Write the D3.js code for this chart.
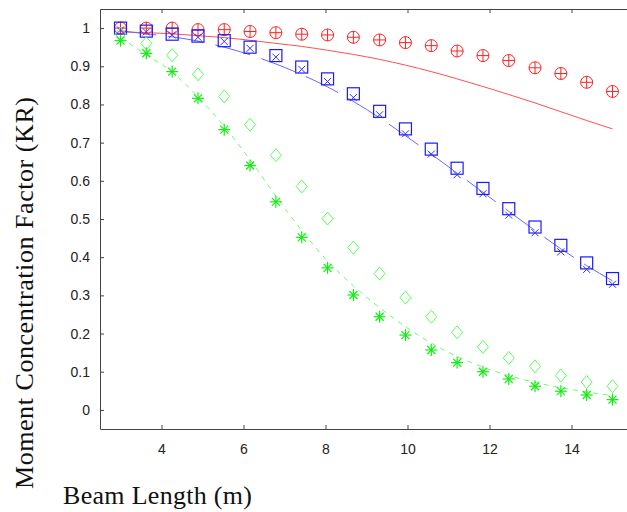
<!DOCTYPE html>
<html>
<head>
<meta charset="utf-8">
<script src="https://cdn.jsdelivr.net/npm/d3@7"></script>
<style>
  body { margin: 0; background: #fff; overflow: hidden; }
  .tick text { font-family: "Liberation Sans", Arial, sans-serif; font-size: 14px; fill: #222; }
  .axis-title { font-family: "Liberation Serif", "Times New Roman", serif; font-size: 26px; fill: #111; }
</style>
</head>
<body>
<div id="chart"></div>
<script>
// beam lengths, 20 samples from 3 to 15 m
const beamLength = [3.00, 3.63, 4.26, 4.89, 5.53, 6.16, 6.79, 7.42, 8.05, 8.68,
                    9.32, 9.95, 10.58, 11.21, 11.84, 12.47, 13.11, 13.74, 14.37, 15.00];

const redCircles = [1.000, 1.000, 1.000, 0.996, 0.996, 0.991, 0.988, 0.984, 0.982, 0.976,
                    0.969, 0.962, 0.954, 0.940, 0.928, 0.915, 0.896, 0.881, 0.858, 0.834];
const redLine    = [0.990, 0.988, 0.985, 0.980, 0.975, 0.968, 0.960, 0.952, 0.942, 0.931,
                    0.918, 0.903, 0.886, 0.867, 0.847, 0.826, 0.804, 0.781, 0.758, 0.736];

const blueSquares = [1.000, 0.992, 0.984, 0.979, 0.967, 0.950, 0.928, 0.898, 0.867, 0.828,
                     0.782, 0.736, 0.683, 0.633, 0.580, 0.527, 0.479, 0.431, 0.385, 0.344];
const blueCrosses = [0.995, 0.990, 0.982, 0.976, 0.965, 0.947, 0.924, 0.892, 0.860, 0.818,
                     0.773, 0.723, 0.670, 0.616, 0.566, 0.510, 0.464, 0.414, 0.368, 0.329];
const blueLine    = [0.993, 0.985, 0.977, 0.966, 0.950, 0.930, 0.906, 0.878, 0.846, 0.808,
                     0.765, 0.718, 0.670, 0.620, 0.570, 0.520, 0.470, 0.422, 0.378, 0.338];

const greenDiamonds = [0.985, 0.960, 0.929, 0.879, 0.821, 0.747, 0.667, 0.585, 0.501, 0.425,
                       0.357, 0.294, 0.244, 0.203, 0.165, 0.136, 0.114, 0.090, 0.073, 0.062];
const greenStars    = [0.967, 0.934, 0.886, 0.816, 0.734, 0.640, 0.545, 0.452, 0.372, 0.301,
                       0.244, 0.196, 0.157, 0.124, 0.100, 0.081, 0.062, 0.049, 0.039, 0.027];
const greenLine     = [0.975, 0.930, 0.885, 0.820, 0.743, 0.655, 0.560, 0.470, 0.390, 0.325,
                       0.268, 0.218, 0.175, 0.140, 0.112, 0.090, 0.072, 0.058, 0.047, 0.037];

const xTicks = [4, 6, 8, 10, 12, 14];
const yTicks = [0, 0.1, 0.2, 0.3, 0.4, 0.5, 0.6, 0.7, 0.8, 0.9, 1];

const width = 627, height = 512;
const margin = { top: 9, left: 100, bottom: 83, right: -6 };
const innerW = width - margin.left - margin.right;
const innerH = height - margin.top - margin.bottom;

const svg = d3.select("#chart").append("svg")
  .attr("width", width)
  .attr("height", height);

const g = svg.append("g")
  .attr("transform", `translate(${margin.left},${margin.top})`);

const x = d3.scaleLinear().domain([2.5, 15.5]).range([0, innerW]);
const y = d3.scaleLinear().domain([-0.05, 1.05]).range([innerH, 0]);

// axes: ticks point inward
const xAxis = g.append("g")
  .attr("transform", `translate(0,${innerH})`)
  .call(d3.axisBottom(x).tickValues(xTicks).tickSize(-4).tickPadding(12).tickSizeOuter(0));
g.append("g")
  .call(d3.axisTop(x).tickValues(xTicks).tickSize(-4).tickFormat("").tickSizeOuter(0));
g.append("g")
  .call(d3.axisLeft(y).tickValues(yTicks).tickSize(-4).tickPadding(10).tickSizeOuter(0)
    .tickFormat(d => d3.format("~g")(d)));
g.selectAll(".domain, .tick line").attr("stroke", "#444");
g.selectAll(".tick text").attr("fill", "#222");
xAxis.selectAll(".tick text").attr("dy", "0.9em");

const lineGen = d3.line()
  .x((d, i) => x(beamLength[i]))
  .y(d => y(d))
  .curve(d3.curveMonotoneX);

// fitted curves
g.append("path").datum(redLine).attr("d", lineGen)
  .attr("fill", "none").attr("stroke", "#ff5050").attr("stroke-width", 1);
g.append("path").datum(blueLine).attr("d", lineGen)
  .attr("fill", "none").attr("stroke", "#6868ff").attr("stroke-width", 1)
  .attr("stroke-dasharray", "36,12");
g.append("path").datum(greenLine).attr("d", lineGen)
  .attr("fill", "none").attr("stroke", "#66ff66").attr("stroke-width", 1)
  .attr("stroke-dasharray", "5,5");

// marker helpers
function addMarkers(values, draw) {
  values.forEach((v, i) => {
    const m = g.append("g")
      .attr("transform", `translate(${x(beamLength[i])},${y(v)})`)
      .attr("fill", "none");
    draw(m);
  });
}

addMarkers(redCircles, m => {
  m.attr("stroke", "#ff2020").attr("stroke-width", 1);
  m.append("circle").attr("r", 6);
  m.append("line").attr("x1", -6).attr("x2", 6);
  m.append("line").attr("y1", -6).attr("y2", 6);
});

addMarkers(blueSquares, m => {
  m.attr("stroke", "#1a1aff").attr("stroke-width", 1.2);
  m.append("rect").attr("x", -6).attr("y", -6).attr("width", 12).attr("height", 12);
});

addMarkers(blueCrosses, m => {
  m.attr("stroke", "#3030ff").attr("stroke-width", 1);
  m.append("line").attr("x1", -3.5).attr("y1", -3.5).attr("x2", 3.5).attr("y2", 3.5);
  m.append("line").attr("x1", -3.5).attr("y1", 3.5).attr("x2", 3.5).attr("y2", -3.5);
});

addMarkers(greenDiamonds, m => {
  m.attr("stroke", "#55ff55").attr("stroke-width", 1);
  m.append("path").attr("d", "M0,-6.5L5.5,0L0,6.5L-5.5,0Z");
});

addMarkers(greenStars, m => {
  m.attr("stroke", "#11ee11").attr("stroke-width", 1.2);
  m.append("line").attr("x1", -6).attr("x2", 6);
  m.append("line").attr("y1", -6).attr("y2", 6);
  m.append("line").attr("x1", -4).attr("y1", -4).attr("x2", 4).attr("y2", 4);
  m.append("line").attr("x1", -4).attr("y1", 4).attr("x2", 4).attr("y2", -4);
});

// axis titles
svg.append("text")
  .attr("class", "axis-title")
  .attr("x", 63)
  .attr("y", 504)
  .attr("textLength", 189)
  .attr("lengthAdjust", "spacing")
  .text("Beam Length (m)");

svg.append("text")
  .attr("class", "axis-title")
  .attr("text-anchor", "middle")
  .attr("transform", "translate(32.5,293) rotate(-90)")
  .attr("textLength", 392)
  .attr("lengthAdjust", "spacing")
  .text("Moment Concentration Factor (KR)");
</script>
</body>
</html>
